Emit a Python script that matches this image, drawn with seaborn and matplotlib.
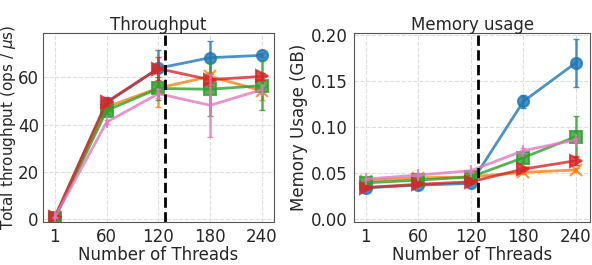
"""
Throughput and memory usage vs. number of threads, two panels side by side.
"""

import matplotlib
matplotlib.use("Agg")
import matplotlib.pyplot as plt
import seaborn as sns
import pandas as pd

threads = ["1", "60", "120", "180", "240"]
series = ["S1", "S2", "S3", "S4", "S5"]
colors = ["#1f77b4", "#ff7f0e", "#2ca02c", "#d62728", "#e377c2"]
markers = ["o", "x", "s", ">", "|"]

# throughput (ops / us), mean and error per series
tput_s1 = [1.0, 49.3, 63.9, 68.3, 69.3]
tput_s2 = [1.0, 47.5, 55.5, 60.4, 54.3]
tput_s3 = [0.5, 46.0, 55.3, 55.0, 56.5]
tput_s4 = [1.0, 49.6, 63.7, 59.0, 60.4]
tput_s5 = [1.0, 41.1, 53.1, 48.2, 54.8]
tput_err_s1 = [0.2, 2.5, 7.8, 7.0, 0.8]
tput_err_s2 = [0.2, 1.5, 8.0, 2.0, 4.0]
tput_err_s3 = [0.2, 1.5, 5.0, 11.5, 10.3]
tput_err_s4 = [0.2, 1.5, 5.0, 2.5, 1.5]
tput_err_s5 = [0.2, 1.0, 2.0, 13.4, 2.0]

# memory usage (GB), mean and error per series
mem_s1 = [0.0342, 0.0370, 0.0390, 0.1280, 0.1700]
mem_s2 = [0.0420, 0.0450, 0.0460, 0.0510, 0.0535]
mem_s3 = [0.0395, 0.0425, 0.0460, 0.0669, 0.0898]
mem_s4 = [0.0345, 0.0380, 0.0407, 0.0545, 0.0636]
mem_s5 = [0.0436, 0.0480, 0.0527, 0.0745, 0.0862]
mem_err_s1 = [0.001, 0.001, 0.001, 0.007, 0.026]
mem_err_s2 = [0.001, 0.001, 0.001, 0.002, 0.002]
mem_err_s3 = [0.001, 0.001, 0.001, 0.006, 0.022]
mem_err_s4 = [0.001, 0.001, 0.001, 0.002, 0.005]
mem_err_s5 = [0.001, 0.001, 0.001, 0.003, 0.002]

cutoff = 2 + 8 / 60  # 128 threads, between the 120 and 180 positions


def build(vals, errs):
    rows = []
    for name, v, e in zip(series, vals, errs):
        for i, (y, err) in enumerate(zip(v, e)):
            rows.append({"series": name, "pos": i, "value": y, "err": err})
    return pd.DataFrame(rows)


tput = build([tput_s1, tput_s2, tput_s3, tput_s4, tput_s5],
             [tput_err_s1, tput_err_s2, tput_err_s3, tput_err_s4, tput_err_s5])
mem = build([mem_s1, mem_s2, mem_s3, mem_s4, mem_s5],
            [mem_err_s1, mem_err_s2, mem_err_s3, mem_err_s4, mem_err_s5])

sns.set_style("whitegrid", {"grid.linestyle": "--", "grid.color": "#dddddd",
                            "axes.edgecolor": "#555555"})
plt.rcParams["font.family"] = ["DejaVu Sans"]
plt.rcParams["font.size"] = 12
plt.rcParams["xtick.major.size"] = 3
plt.rcParams["ytick.major.size"] = 3

fig = plt.figure(figsize=(5.92, 2.65), dpi=100)
ax1 = fig.add_axes([0.0726, 0.162, 0.390, 0.715])
ax2 = fig.add_axes([0.598, 0.162, 0.399, 0.715])


def panel(ax, df, title, ylabel, ysize):
    for name, c, m in zip(series, colors, markers):
        d = df[df["series"] == name]
        ax.errorbar(d["pos"], d["value"], yerr=d["err"], fmt="none",
                    ecolor=c, elinewidth=1.8, capsize=2, alpha=0.8)
        sns.lineplot(data=d, x="pos", y="value", color=c, marker=m, ax=ax,
                     linewidth=2, markersize=8, alpha=0.8,
                     markeredgecolor=c, markeredgewidth=1.5)
    ax.axvline(cutoff, color="black", linestyle="--", linewidth=2)
    ax.set_xticks(range(len(threads)))
    ax.set_xticklabels(threads)
    ax.set_xlabel("Number of Threads", fontsize=12, labelpad=0)
    ax.set_ylabel(ylabel, fontsize=ysize, labelpad=2)
    ax.set_title(title, fontsize=12, pad=2)
    ax.tick_params(labelsize=12, pad=1.5)


panel(ax1, tput, "Throughput", "Total throughput (ops / $\\mu$s)", 11.0)
ax1.set_xlim(-0.23, 4.23)
ax1.set_ylim(-1.1, 78.9)
ax1.set_yticks([0, 20, 40, 60])
ax1.tick_params(axis="y", pad=0.5, length=2.5)
ax1.yaxis.set_label_coords(-0.109, 0.5)

panel(ax2, mem, "Memory usage", "Memory Usage (GB)", 12)
ax2.set_xlim(-0.22, 4.27)
ax2.set_ylim(-0.003, 0.2026)
ax2.set_yticks([0.0, 0.05, 0.10, 0.15, 0.20])
ax2.set_yticklabels(["0.00", "0.05", "0.10", "0.15", "0.20"])

fig.savefig("out.png", dpi=100)
